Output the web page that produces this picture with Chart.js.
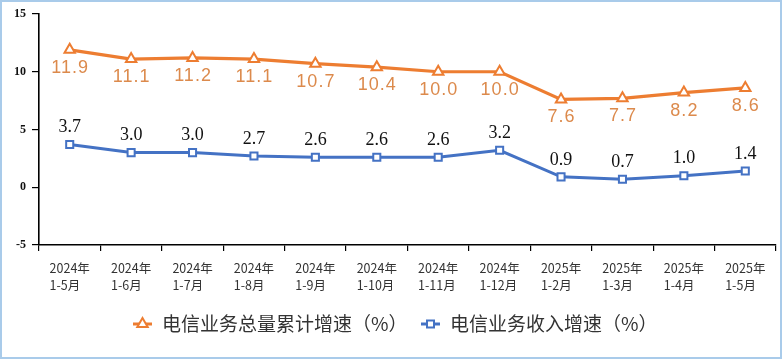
<!DOCTYPE html>
<html>
<head>
<meta charset="utf-8">
<script src="https://cdn.jsdelivr.net/npm/chart.js@4/dist/chart.umd.min.js"></script>
<style>
html,body{margin:0;padding:0;background:#fff;}
#wrap{width:784px;height:360px;position:relative;}
</style>
</head>
<body>
<div id="wrap"><canvas id="c" width="784" height="360"></canvas></div>
<script>
const yearLabels = ['2024年','2024年','2024年','2024年','2024年','2024年','2024年','2024年','2025年','2025年','2025年','2025年'];
const monthLabels = ['1-5月','1-6月','1-7月','1-8月','1-9月','1-10月','1-11月','1-12月','1-2月','1-3月','1-4月','1-5月'];
const totalGrowth = [11.9, 11.1, 11.2, 11.1, 10.7, 10.4, 10.0, 10.0, 7.6, 7.7, 8.2, 8.6];
const revenueGrowth = [3.7, 3.0, 3.0, 2.7, 2.6, 2.6, 2.6, 3.2, 0.9, 0.7, 1.0, 1.4];
const seriesNames = ['电信业务总量累计增速（%）', '电信业务收入增速（%）'];
const yTicks = [-5, 0, 5, 10, 15];

const ORANGE = '#ED7D31';
const BLUE = '#4472C4';
const SERIF = "'Times New Roman','Liberation Serif','Noto Serif CJK SC','Noto Sans CJK SC',serif";
const CJK = "'Noto Sans CJK SC','Noto Sans',sans-serif";

const categories = yearLabels.map((y, i) => y + ' ' + monthLabels[i]);

function drawMarker(ctx, style, x, y, color) {
  ctx.save();
  ctx.fillStyle = '#fff';
  ctx.strokeStyle = color;
  ctx.lineWidth = 2;
  ctx.beginPath();
  if (style === 'triangle') {
    const r = 6;
    const half = r * Math.sqrt(3) / 2;
    ctx.moveTo(x, y - r);
    ctx.lineTo(x + half, y + r / 2);
    ctx.lineTo(x - half, y + r / 2);
    ctx.closePath();
  } else {
    const s = 3.5;
    ctx.rect(x - s, y - s, 2 * s, 2 * s);
  }
  ctx.fill();
  ctx.stroke();
  ctx.restore();
}

const customPlugin = {
  id: 'custom',
  beforeDraw(chart) {
    const ctx = chart.ctx;
    ctx.save();
    ctx.fillStyle = '#fff';
    ctx.fillRect(0, 0, chart.width, chart.height);
    ctx.strokeStyle = '#A9CBEA';
    ctx.lineWidth = 2;
    ctx.strokeRect(1, 1, 780, 357);
    ctx.restore();
  },
  afterDatasetsDraw(chart) {
    const ctx = chart.ctx;
    ctx.save();
    ctx.textAlign = 'center';
    ctx.textBaseline = 'middle';
    const m0 = chart.getDatasetMeta(0);
    ctx.font = "18px 'Liberation Sans','Noto Sans',sans-serif";
    ctx.letterSpacing = '1px';
    ctx.fillStyle = '#DC8A4C';
    m0.data.forEach((p, i) => {
      ctx.fillText(totalGrowth[i].toFixed(1), p.x + 0.5, p.y + 18);
    });
    ctx.letterSpacing = '0px';
    const m1 = chart.getDatasetMeta(1);
    ctx.font = "18px " + SERIF;
    ctx.fillStyle = '#111';
    m1.data.forEach((p, i) => {
      ctx.fillText(revenueGrowth[i].toFixed(1), p.x, p.y - 17);
    });
    ctx.restore();
  },
  afterDraw(chart) {
    const ctx = chart.ctx;
    const xs = chart.scales.x;
    ctx.save();
    ctx.font = "12.5px " + CJK;
    ctx.fillStyle = '#333';
    ctx.textBaseline = 'middle';
    ctx.textAlign = 'left';
    yearLabels.forEach((yl, i) => {
      const cx = xs.getPixelForValue(i);
      const w = Math.max(ctx.measureText(yl).width, ctx.measureText(monthLabels[i]).width);
      const left = cx - w / 2;
      ctx.fillText(yl, left, 268);
      ctx.fillText(monthLabels[i], left, 285);
    });
    const ly = 324;
    const items = [
      {x: 133, color: ORANGE, style: 'triangle', text: seriesNames[0]},
      {x: 421, color: BLUE, style: 'rect', text: seriesNames[1]}
    ];
    ctx.font = "19px " + CJK;
    items.forEach(it => {
      ctx.strokeStyle = it.color;
      ctx.lineWidth = 3;
      ctx.beginPath();
      ctx.moveTo(it.x, ly);
      ctx.lineTo(it.x + 19, ly);
      ctx.stroke();
      drawMarker(ctx, it.style, it.x + 9.5, ly, it.color);
      ctx.fillStyle = '#333';
      ctx.textAlign = 'left';
      ctx.textBaseline = 'middle';
      ctx.fillText(it.text, it.x + 29, ly);
    });
    ctx.restore();
  }
};

new Chart(document.getElementById('c'), {
  type: 'line',
  data: {
    labels: categories,
    datasets: [
      {
        label: seriesNames[0],
        data: totalGrowth,
        borderColor: ORANGE,
        backgroundColor: '#fff',
        borderWidth: 3.2,
        pointStyle: 'triangle',
        pointRadius: 6,
        pointBorderWidth: 2,
        pointBackgroundColor: '#fff',
        pointBorderColor: ORANGE,
        tension: 0
      },
      {
        label: seriesNames[1],
        data: revenueGrowth,
        borderColor: BLUE,
        backgroundColor: '#fff',
        borderWidth: 3,
        pointStyle: 'rect',
        pointRadius: 5,
        pointBorderWidth: 2,
        pointBackgroundColor: '#fff',
        pointBorderColor: BLUE,
        tension: 0
      }
    ]
  },
  options: {
    responsive: false,
    animation: false,
    devicePixelRatio: 1,
    layout: {padding: {left: 0, top: 14, right: 6, bottom: 0}},
    plugins: {legend: {display: false}, tooltip: {enabled: false}},
    scales: {
      x: {
        type: 'category',
        offset: true,
        grid: {display: true, drawOnChartArea: false, drawTicks: true, tickLength: 6, offset: true, color: '#000', lineWidth: 1.2},
        border: {display: true, color: '#000', width: 1.6},
        ticks: {display: false},
        afterFit(s) { s.height = 115; }
      },
      y: {
        min: -5, max: 15,
        afterBuildTicks(s) { s.ticks = yTicks.map(v => ({value: v})); },
        grid: {display: true, drawOnChartArea: false, drawTicks: true, tickLength: 7, color: '#000', lineWidth: 1.2},
        border: {display: true, color: '#000', width: 1.6},
        ticks: {padding: 6, color: '#111', font: {family: SERIF, size: 12, weight: 'bold'}},
        afterFit(s) { s.width = 39; }
      }
    }
  },
  plugins: [customPlugin]
});
</script>
</body>
</html>
